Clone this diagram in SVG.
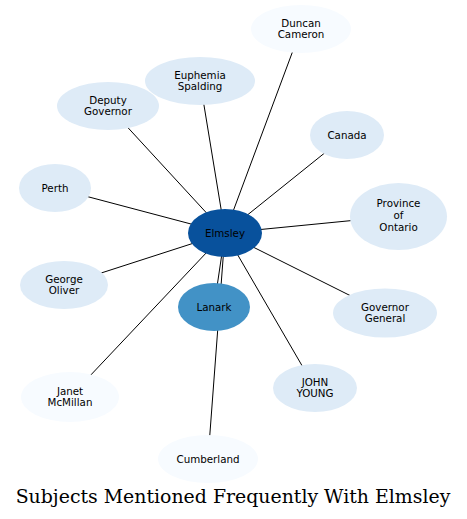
<svg xmlns="http://www.w3.org/2000/svg" width="467" height="519" viewBox="0 0 467 519">
<style>
.e{stroke:#000;stroke-width:1;fill:none}
.l{fill:#deebf7}
.vl{fill:#f7fbff}
text{font-family:"DejaVu Sans",sans-serif;font-size:10.3px;fill:#000;text-anchor:middle}
.t{font-family:"DejaVu Serif",serif;font-size:18.9px}
</style>
<rect width="467" height="519" fill="#fff"/>
<g id="edges">
<line class="e" x1="225" y1="233" x2="301" y2="29"/>
<line class="e" x1="225" y1="233" x2="200" y2="81"/>
<line class="e" x1="225" y1="233" x2="108" y2="106"/>
<line class="e" x1="225" y1="233" x2="347" y2="135"/>
<line class="e" x1="225" y1="233" x2="55" y2="188"/>
<line class="e" x1="225" y1="233" x2="398" y2="216"/>
<line class="e" x1="225" y1="233" x2="64" y2="285"/>
<line class="e" x1="225" y1="233" x2="385" y2="313"/>
<line class="e" x1="225" y1="233" x2="70" y2="397"/>
<line class="e" x1="225" y1="233" x2="315" y2="388"/>
<line class="e" x1="225" y1="233" x2="214" y2="307"/>
<line class="e" x1="225" y1="233" x2="208" y2="459"/>
</g>
<g id="duncan"><ellipse class="vl" cx="301" cy="29" rx="50" ry="24"/><text x="301" y="26.5">Duncan</text><text x="301" y="38.2">Cameron</text></g>
<g id="euphemia"><ellipse class="l" cx="200" cy="81" rx="55" ry="24"/><text x="200" y="78.5">Euphemia</text><text x="200" y="90.2">Spalding</text></g>
<g id="deputy"><ellipse class="l" cx="108" cy="106" rx="51" ry="24"/><text x="108" y="103.5">Deputy</text><text x="108" y="115.2">Governor</text></g>
<g id="canada"><ellipse class="l" cx="347" cy="135" rx="37" ry="24"/><text x="347" y="138.5">Canada</text></g>
<g id="perth"><ellipse class="l" cx="55" cy="188" rx="36" ry="24"/><text x="55" y="191.5">Perth</text></g>
<g id="ontario"><ellipse class="l" cx="398.5" cy="216.5" rx="48.5" ry="33.5"/><text x="398.5" y="207.3">Province</text><text x="398.5" y="219">of</text><text x="398.5" y="230.7">Ontario</text></g>
<g id="george"><ellipse class="l" cx="64" cy="285" rx="44" ry="24"/><text x="64" y="282.5">George</text><text x="64" y="294.2">Oliver</text></g>
<g id="govgen"><ellipse class="l" cx="385" cy="313" rx="52" ry="24.5"/><text x="385" y="310.5">Governor</text><text x="385" y="322.2">General</text></g>
<g id="janet"><ellipse class="vl" cx="70" cy="397" rx="49" ry="25"/><text x="70" y="394.5">Janet</text><text x="70" y="406.2">McMillan</text></g>
<g id="john"><ellipse class="l" cx="315" cy="388" rx="42" ry="24"/><text x="315" y="385.5">JOHN</text><text x="315" y="397.2">YOUNG</text></g>
<g id="cumberland"><ellipse class="vl" cx="208" cy="459" rx="50" ry="24"/><text x="208" y="462.5">Cumberland</text></g>
<g id="lanark"><ellipse fill="#4292c6" cx="214" cy="307" rx="36" ry="24"/><text x="214" y="310.5">Lanark</text></g>
<g id="elmsley"><ellipse fill="#08519c" cx="225" cy="233" rx="37" ry="24"/><text x="225" y="236.5">Elmsley</text></g>
<text class="t" x="233" y="503">Subjects Mentioned Frequently With Elmsley</text>
</svg>
